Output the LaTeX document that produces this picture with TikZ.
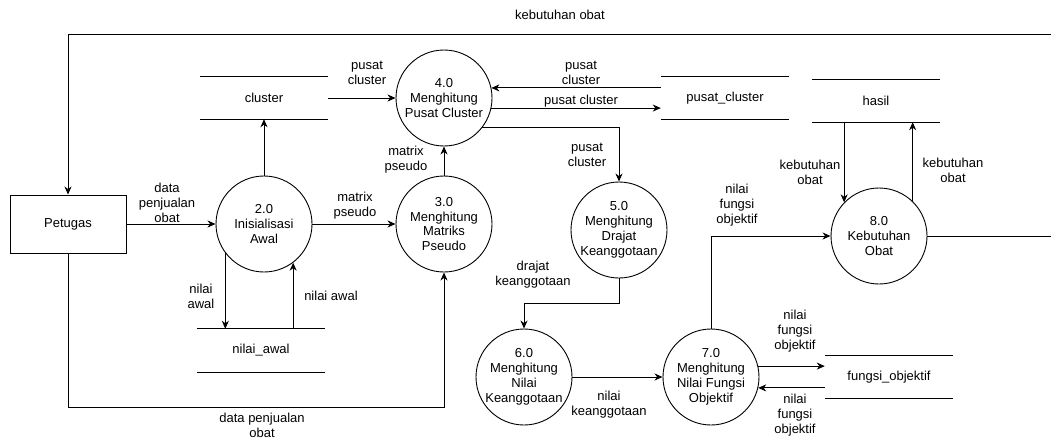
\documentclass[tikz,border=0pt]{standalone}
\usepackage{fontspec}
\setmainfont{Liberation Sans}
\usetikzlibrary{arrows.meta}
\tikzset{
  txt/.style={font=\fontsize{13}{14.8}\selectfont},
  lbl/.style={txt, align=center, inner sep=0pt},
  proc/.style={circle, draw, line width=0.9pt, minimum size=96pt, inner sep=0pt, align=center, txt},
  ent/.style={rectangle, draw, line width=0.9pt, minimum width=116pt, minimum height=58pt, txt},
  store/.style={rectangle, minimum width=128pt, minimum height=42pt, inner sep=0pt, txt},
  flow/.style={-{Stealth[length=8pt,width=7pt,inset=2.5pt]}, line width=0.9pt},
  plain/.style={line width=0.9pt}
}
\begin{document}
\begin{tikzpicture}[x=1pt,y=-1pt]
\useasboundingbox (0,0) rectangle (1051,439);
% entities and processes
\node[ent]  (pt) at (68,224) {Petugas};
\node[proc] (p2) at (264,224) {2.0\\Inisialisasi\\Awal};
\node[proc] (p3) at (444,224) {3.0\\Menghitung\\Matriks\\Pseudo};
\node[proc] (p4) at (444,98) {4.0\\Menghitung\\Pusat Cluster};
\node[proc] (p5) at (619,230) {5.0\\Menghitung\\Drajat\\Keanggotaan};
\node[proc] (p6) at (524,377) {6.0\\Menghitung\\Nilai\\Keanggotaan};
\node[proc] (p7) at (711,377) {7.0\\Menghitung\\Nilai Fungsi\\Objektif};
\node[proc] (p8) at (879,236) {8.0\\Kebutuhan\\Obat};
% data stores
\node[store] (cl) at (264,98) {cluster};
\node[store, minimum height=43pt] (na) at (261,350.5) {nilai\_awal};
\node[store] (pc) at (725,98) {pusat\_cluster};
\node[store] (hs) at (876,101) {hasil};
\node[store] (fo) at (889,377) {fungsi\_objektif};
\foreach \s in {cl,na,pc,hs,fo}{
  \draw[plain] (\s.north west) -- (\s.north east) (\s.south west) -- (\s.south east);
}
% free ends at the picture border
\coordinate (tr) at (1051,34);
\coordinate (r8) at (1051,236);
% flows
\draw[flow] (tr) -| (pt.north);
\draw[plain] (p8.east) -- (r8);
\draw[flow] (pt.east) -- (p2.west);
\draw[flow] (p2.north) -- (cl.south);
\draw[flow] (p2.east) -- (p3.west);
\draw[flow] (p2.217.7) -- (p2.217.7 |- na.north);
\draw[flow] (na.north -| p2.307.2) -- (p2.307.2);
\draw[flow] (pt.south) -- (68,407) -| (p3.south);
\draw[flow] (p3.north) -- (p4.south);
\draw[flow] (cl.east) -- (p4.west);
\draw[flow] (p4.12.6 -| pc.west) -- (p4.12.6);
\draw[flow] (p4.-12.6) -- (p4.-12.6 -| pc.west);
\draw[flow] (p4.-38.7) -| (p5.north);
\draw[flow] (p5.south) -- (619,303) -| (p6.north);
\draw[flow] (p6.east) -- (p7.west);
\draw[flow] (p7.north) |- (p8.west);
\draw[flow] (p7.13.2) -- (p7.13.2 -| fo.west);
\draw[flow] (fo.west |- p7.-13.2) -- (p7.-13.2);
\draw[flow] (hs.south -| p8.136.8) -- (p8.136.8);
\draw[flow] (p8.46.6) -- (p8.46.6 |- hs.south);
% flow labels
\node[lbl] (l1)  at (560,15) {kebutuhan obat};
\node[lbl] (l2)  at (367,73) {pusat\\cluster};
\node[lbl] (l3)  at (167,203) {data\\penjualan\\obat};
\node[lbl] (l4)  at (355,206) {matrix\\pseudo};
\node[lbl] (l5)  at (406,160) {matrix\\pseudo};
\node[lbl] (l6)  at (201,296) {nilai\\awal};
\node[lbl] (l7)  at (331,296) {nilai awal};
\node[lbl] (l8)  at (262,425) {data penjualan\\obat};
\node[lbl] (l9)  at (581,72.5) {pusat\\cluster};
\node[lbl] (l10) at (581,101) {pusat cluster};
\node[lbl] (l11) at (587,155) {pusat\\cluster};
\node[lbl] (l12) at (533,274.5) {drajat\\keanggotaan};
\node[lbl] (l13) at (609,404.5) {nilai\\keanggotaan};
\node[lbl] (l14) at (737,205) {nilai\\fungsi\\objektif};
\node[lbl] (l15) at (795,331) {nilai\\fungsi\\objektif};
\node[lbl] (l16) at (795,415) {nilai\\fungsi\\objektif};
\node[lbl] (l17) at (810,172.5) {kebutuhan\\obat};
\node[lbl] (l18) at (953,170.5) {kebutuhan\\obat};
\end{tikzpicture}
\end{document}
